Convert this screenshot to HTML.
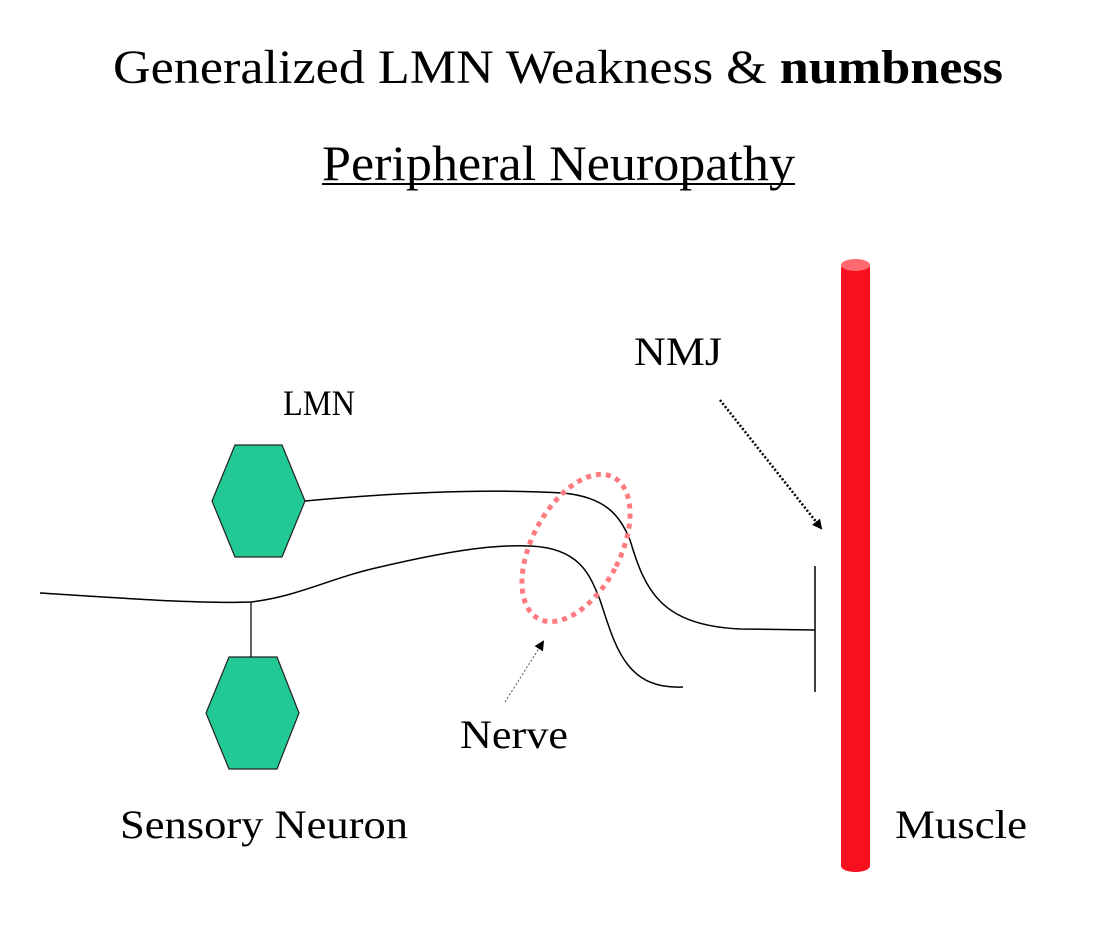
<!DOCTYPE html>
<html><head><style>html,body{margin:0;padding:0;background:#fff}svg{display:block}</style></head>
<body>
<svg width="1116" height="946" viewBox="0 0 1116 946" xmlns="http://www.w3.org/2000/svg" font-family="'Liberation Serif', serif">
<defs>
<marker id="ah" markerWidth="10" markerHeight="10" refX="8" refY="5" orient="auto" markerUnits="userSpaceOnUse"><path d="M0,0 L10,5 L0,10 z" fill="#000"/></marker>
</defs>
<text x="113" y="83" font-size="48" textLength="890" lengthAdjust="spacingAndGlyphs">Generalized LMN Weakness &amp; <tspan font-weight="bold">numbness</tspan></text>
<text x="322" y="180" font-size="50" textLength="473" lengthAdjust="spacingAndGlyphs">Peripheral Neuropathy</text>
<line x1="322" y1="184" x2="795" y2="184" stroke="#000" stroke-width="2"/>

<rect x="841" y="265" width="29" height="603" fill="#f8101e" rx="3"/>
<ellipse cx="855.5" cy="265" rx="14.5" ry="6" fill="#ff6a70"/>
<ellipse cx="855.5" cy="866" rx="14.5" ry="6" fill="#f8101e"/>

<polygon points="235,445 282,445 305,501 282,557 235,557 212,501" fill="#22c994" stroke="#222" stroke-width="1.2"/>
<polygon points="229,657 277,657 299,713 277,769 229,769 206,713" fill="#22c994" stroke="#222" stroke-width="1.2"/>

<path d="M305,501 C380,494 480,488 563,493 C605,497 620,515 630,540 C645,590 660,625 740,629 L815,630" fill="none" stroke="#000" stroke-width="1.5"/>
<path d="M40,593 C120,598 200,604 251,602 C300,596 330,578 380,567 C440,553 490,544 530,546 C580,548 590,575 600,600 C615,645 625,690 683,687" fill="none" stroke="#000" stroke-width="1.5"/>
<line x1="251" y1="602" x2="251" y2="657" stroke="#000" stroke-width="1.2"/>
<line x1="815" y1="566" x2="815" y2="692" stroke="#000" stroke-width="1.5"/>

<ellipse cx="576" cy="548" rx="44" ry="80" transform="rotate(28 576 548)" fill="none" stroke="#ff7b80" stroke-width="5" stroke-dasharray="5 5"/>

<line x1="720" y1="400" x2="821" y2="528" stroke="#000" stroke-width="2.5" stroke-dasharray="2 2" marker-end="url(#ah)"/>
<line x1="505" y1="702" x2="543" y2="642" stroke="#555" stroke-width="1" stroke-dasharray="2 2" marker-end="url(#ah)"/>

<text x="283" y="415" font-size="36" textLength="72" lengthAdjust="spacingAndGlyphs">LMN</text>
<text x="634" y="365" font-size="40" textLength="88" lengthAdjust="spacingAndGlyphs">NMJ</text>
<text x="460" y="748" font-size="40" textLength="108" lengthAdjust="spacingAndGlyphs">Nerve</text>
<text x="120" y="838" font-size="40" textLength="288" lengthAdjust="spacingAndGlyphs">Sensory Neuron</text>
<text x="895" y="838" font-size="40" textLength="132" lengthAdjust="spacingAndGlyphs">Muscle</text>
</svg>
</body></html>
